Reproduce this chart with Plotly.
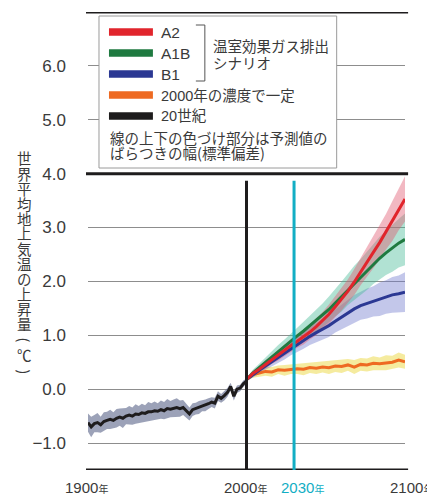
import plotly.graph_objects as go

# ---------------- data ----------------
hist_years = list(range(1900, 2001, 2))
hist_mean = [-0.62, -0.70, -0.64, -0.62, -0.66, -0.60, -0.58, -0.56, -0.58, -0.54,
             -0.52, -0.54, -0.50, -0.48, -0.50, -0.46, -0.47, -0.44, -0.45, -0.42,
             -0.42, -0.40, -0.41, -0.38, -0.40, -0.36, -0.37, -0.35, -0.34, -0.36,
             -0.34, -0.40, -0.46, -0.38, -0.36, -0.34, -0.31, -0.30, -0.27, -0.24,
             -0.26, -0.13, -0.17, -0.12, -0.06, 0.05, -0.13, 0.00, 0.02, 0.10, 0.15]
hist_sd = [0.17, 0.19, 0.16, 0.18, 0.15, 0.17, 0.16, 0.18, 0.15, 0.17,
           0.16, 0.18, 0.15, 0.17, 0.16, 0.18, 0.16, 0.17, 0.15, 0.18,
           0.16, 0.17, 0.15, 0.17, 0.16, 0.18, 0.15, 0.16, 0.17, 0.15,
           0.14, 0.13, 0.12, 0.12, 0.11, 0.12, 0.10, 0.11, 0.10, 0.09,
           0.10, 0.09, 0.08, 0.09, 0.08, 0.07, 0.08, 0.07, 0.06, 0.06, 0.05]

proj_years = list(range(2000, 2101, 4))
a2_mean = [0.18, 0.29, 0.37, 0.46, 0.55, 0.63, 0.72, 0.81, 0.89, 0.97, 1.06, 1.16, 1.27,
           1.39, 1.53, 1.67, 1.82, 1.99, 2.18, 2.36, 2.54, 2.72, 2.92, 3.12, 3.33, 3.53]
a2_sd = [0.03, 0.05, 0.06, 0.08, 0.08, 0.10, 0.10, 0.12, 0.12, 0.14, 0.14, 0.16, 0.16,
         0.18, 0.19, 0.21, 0.22, 0.24, 0.25, 0.28, 0.29, 0.32, 0.33, 0.37, 0.38, 0.42]
a1b_mean = [0.18, 0.30, 0.40, 0.50, 0.60, 0.70, 0.80, 0.90, 0.99, 1.08, 1.18, 1.27, 1.37,
            1.48, 1.60, 1.72, 1.85, 1.97, 2.08, 2.20, 2.32, 2.43, 2.53, 2.62, 2.71, 2.78]
a1b_sd = [0.03, 0.06, 0.07, 0.09, 0.10, 0.12, 0.12, 0.14, 0.15, 0.17, 0.18, 0.21, 0.22,
          0.24, 0.25, 0.28, 0.29, 0.32, 0.33, 0.36, 0.37, 0.40, 0.41, 0.44, 0.45, 0.48]
b1_mean = [0.18, 0.27, 0.35, 0.43, 0.51, 0.59, 0.67, 0.75, 0.83, 0.91, 0.98, 1.05, 1.11,
           1.18, 1.26, 1.34, 1.42, 1.49, 1.55, 1.59, 1.63, 1.67, 1.71, 1.75, 1.77, 1.80]
b1_sd = [0.03, 0.05, 0.07, 0.07, 0.09, 0.10, 0.12, 0.12, 0.14, 0.16, 0.16, 0.18, 0.19,
         0.21, 0.21, 0.23, 0.24, 0.26, 0.26, 0.28, 0.28, 0.31, 0.31, 0.33, 0.34, 0.37]
const_mean = [0.18, 0.27, 0.30, 0.33, 0.32, 0.36, 0.35, 0.37, 0.38, 0.37, 0.40, 0.39, 0.41,
              0.40, 0.43, 0.42, 0.45, 0.41, 0.46, 0.45, 0.48, 0.47, 0.49, 0.50, 0.54, 0.51]
const_sd = [0.03, 0.06, 0.07, 0.08, 0.09, 0.08, 0.10, 0.09, 0.10, 0.11, 0.10, 0.11, 0.10,
            0.12, 0.11, 0.12, 0.11, 0.13, 0.12, 0.12, 0.13, 0.12, 0.14, 0.12, 0.14, 0.13]

y_ticks = [-1.0, 0.0, 1.0, 2.0, 3.0, 4.0, 5.0, 6.0]
y_ticktext = ["\u22121.0", "0.0", "1.0", "2.0", "3.0", "4.0", "5.0", "6.0"]
x_labels = ["1900", "2000", "2030", "2100"]

legend_names = ["A2", "A1B", "B1", "2000年の濃度で一定", "20世紀"]
scenario_note = ["温室効果ガス排出", "シナリオ"]
band_note = ["線の上下の色づけ部分は予測値の", "ばらつきの幅(標準偏差)"]
y_title_chars = ["世", "界", "平", "均", "地", "上", "気", "温", "の", "上", "昇", "量", "(", "℃", ")"]

# ---------------- styles ----------------
W, H = 427, 495
L, R, T, B = 88, 21.6, 12, 25
PW, PH = W - L - R, H - T - B

def px(x):
    return (x - L) / PW

def py(y):
    return (H - B - y) / PH

RED, GREEN, BLUE, ORANGE, BLACK = "#e1252c", "#1f7a40", "#2b3893", "#ee6a22", "#1e1c1d"
TEAL = "#12aec4"
LAT = "Liberation Sans, Arial, Noto Sans CJK JP"
JP = "Noto Sans CJK JP"
TXT = "#3a3a3a"

fig = go.Figure()

def band(x, m, s, color):
    up = [a + b for a, b in zip(m, s)]
    lo = [a - b for a, b in zip(m, s)]
    fig.add_trace(go.Scatter(x=list(x) + list(x)[::-1], y=up + lo[::-1], fill="toself",
                             fillcolor=color, line=dict(width=0), mode="lines",
                             hoverinfo="skip", showlegend=False))

def line(x, m, color):
    fig.add_trace(go.Scatter(x=x, y=m, mode="lines", line=dict(color=color, width=3),
                             showlegend=False))

band(hist_years, hist_mean, hist_sd, "rgba(95,105,140,0.62)")
band(proj_years, const_mean, const_sd, "rgba(236,218,80,0.55)")
band(proj_years, b1_mean, b1_sd, "rgba(112,122,205,0.42)")
band(proj_years, a1b_mean, a1b_sd, "rgba(70,185,150,0.42)")
band(proj_years, a2_mean, a2_sd, "rgba(225,85,110,0.42)")
line(hist_years, hist_mean, BLACK)
line(proj_years, const_mean, ORANGE)
line(proj_years, b1_mean, BLUE)
line(proj_years, a1b_mean, GREEN)
line(proj_years, a2_mean, RED)

shapes = []
# thick horizontal rules
for yv in [7.0, 4.0, -1.5]:
    shapes.append(dict(type="line", xref="paper", yref="y", x0=px(86), x1=px(408.5),
                       y0=yv, y1=yv, line=dict(color=BLACK, width=3), layer="above"))
# vertical markers
shapes.append(dict(type="line", xref="x", yref="y", x0=2000, x1=2000, y0=3.87, y1=-1.5,
                   line=dict(color=BLACK, width=3), layer="above"))
shapes.append(dict(type="line", xref="x", yref="y", x0=2030, x1=2030, y0=3.87, y1=-1.5,
                   line=dict(color=TEAL, width=3), layer="above"))
# legend box
shapes.append(dict(type="rect", xref="paper", yref="paper", x0=px(99), x1=px(337),
                   y0=py(168), y1=py(16), fillcolor="white", line=dict(color="#9a9a9a", width=1),
                   layer="above"))
sw_colors = [RED, GREEN, BLUE, ORANGE, BLACK]
row_y = [32, 53, 74, 95, 116]
for c, ry in zip(sw_colors, row_y):
    shapes.append(dict(type="rect", xref="paper", yref="paper", x0=px(109), x1=px(153),
                       y0=py(ry + 3.8), y1=py(ry - 3.8), fillcolor=c, line=dict(width=0),
                       layer="above"))
# bracket
shapes.append(dict(type="path", xref="paper", yref="paper",
                   path=f"M {px(196)} {py(25)} L {px(205)} {py(25)} L {px(205)} {py(81)} L {px(196)} {py(81)}",
                   line=dict(color="#555555", width=1), layer="above"))

ann = []
for name, ry in zip(legend_names, row_y):
    ann.append(dict(x=px(159), y=py(ry + 0.5), xref="paper", yref="paper", text=name,
                    xanchor="left", yanchor="middle", showarrow=False,
                    font=dict(family=LAT, size=15.5 if name.isascii() else 14.5, color=TXT)))
for t, yy in zip(scenario_note, [45, 62]):
    ann.append(dict(x=px(211), y=py(yy), xref="paper", yref="paper", text=t, xanchor="left",
                    yanchor="middle", showarrow=False, font=dict(family=JP, size=14.5, color=TXT)))
for t, yy in zip(band_note, [137, 152]):
    ann.append(dict(x=px(108), y=py(yy), xref="paper", yref="paper", text=t, xanchor="left",
                    yanchor="middle", showarrow=False, font=dict(family=JP, size=14.5, color=TXT)))

# vertical y-axis title
char_y = [158, 173, 188, 203, 218, 233, 248, 263, 278, 293, 308, 323, 340, 354, 372]
for ch, cy in zip(y_title_chars, char_y):
    ann.append(dict(x=px(24.5), y=py(cy), xref="paper", yref="paper", text=ch,
                    xanchor="center", yanchor="middle", showarrow=False,
                    textangle=90 if ch in "()" else 0,
                    font=dict(family=JP, size=14.5, color=TXT)))

# x labels
x_left = [63, 222, 279, 388]
for lab, xl in zip(x_labels, x_left):
    col = TEAL if lab == "2030" else TXT
    ann.append(dict(x=px(xl), y=py(487), xref="paper", yref="paper",
                    text=f"{lab}<span style='font-size:10px'>年</span>",
                    xanchor="left", yanchor="middle", showarrow=False,
                    font=dict(family=LAT, size=15, color=col)))

fig.update_layout(
    width=W, height=H, margin=dict(l=L, r=R, t=T, b=B),
    paper_bgcolor="white", plot_bgcolor="white",
    shapes=shapes, annotations=ann, showlegend=False,
    xaxis=dict(range=[1900, 2100], showgrid=False, zeroline=False, showticklabels=False,
               showline=False, ticks=""),
    yaxis=dict(range=[-1.5, 7.0], tickvals=y_ticks, ticktext=y_ticktext, showgrid=True,
               gridcolor="#8d8d8d", gridwidth=1, zeroline=False, showline=False, ticks="",
               ticklabelstandoff=21, tickfont=dict(family=LAT, size=17, color=TXT)),
)

fig.write_html("out.html")
